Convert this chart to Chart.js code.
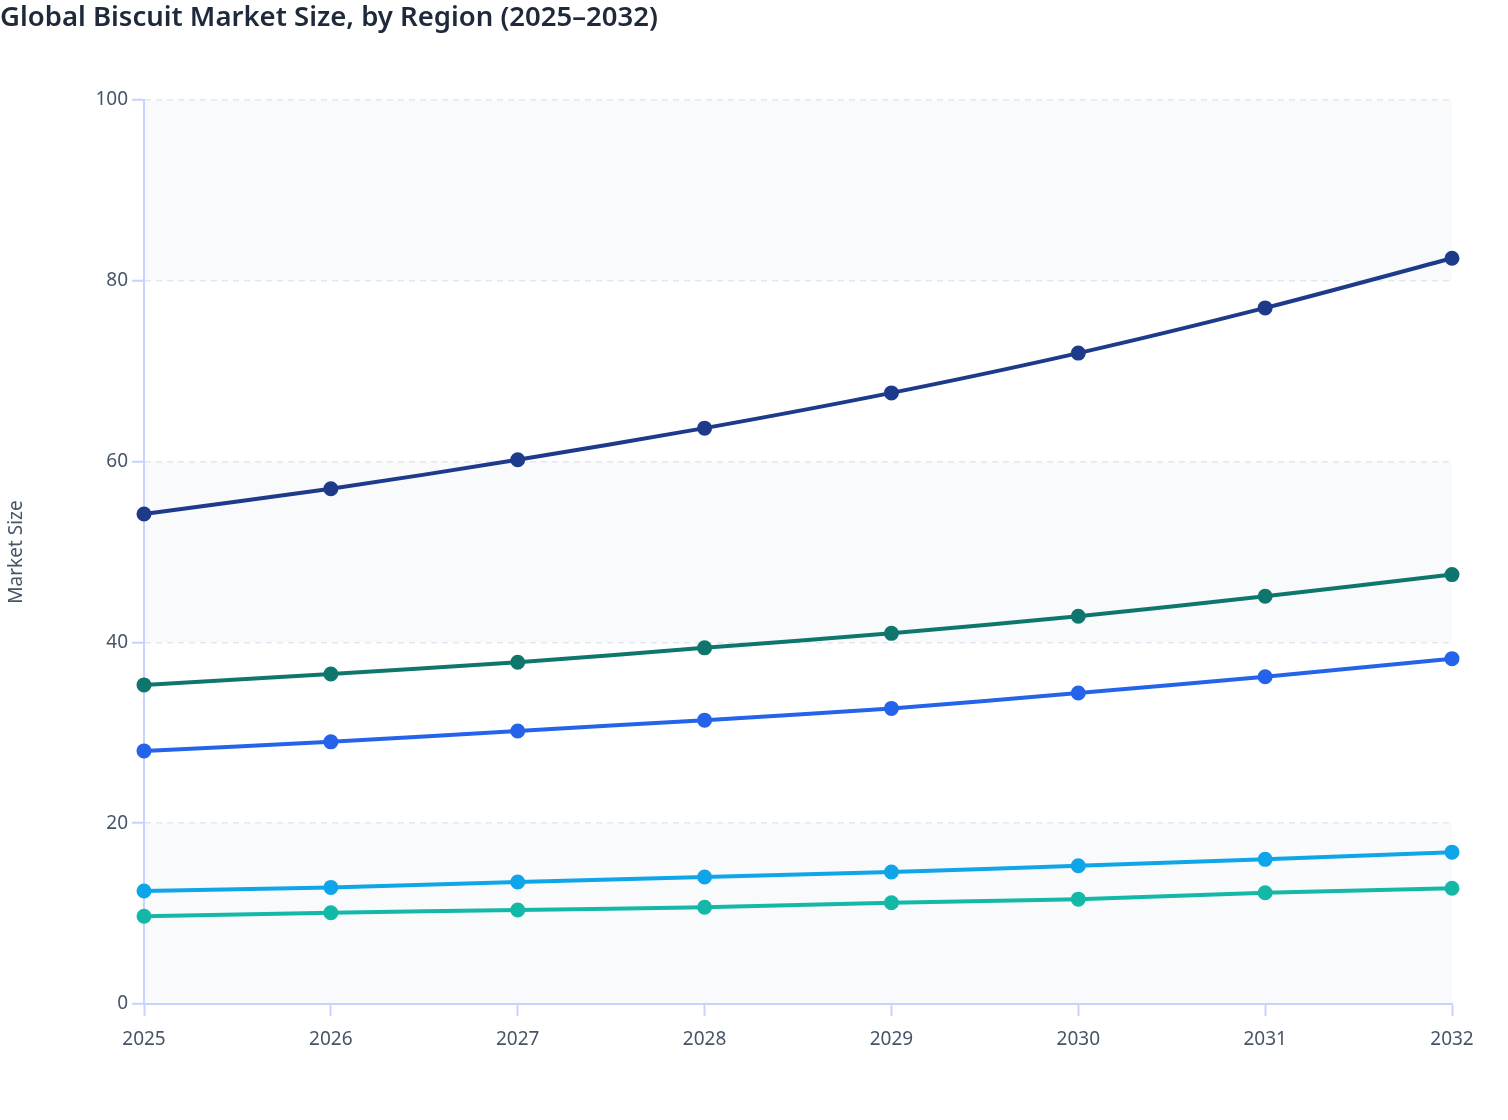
<!DOCTYPE html>
<html>
<head>
<meta charset="utf-8">
<script src="https://cdn.jsdelivr.net/npm/chart.js@4.4.1/dist/chart.umd.min.js"></script>
<style>
  html, body { margin: 0; padding: 0; background: #ffffff; }
  #wrap { width: 1508px; height: 1120px; position: relative; }
</style>
</head>
<body>
<div id="wrap"><canvas id="graficoBiscuit"></canvas></div>
<script>
// años y valores por región
const years = ['2025', '2026', '2027', '2028', '2029', '2030', '2031', '2032'];
const regions = ['Asia Pacific', 'Europe', 'North America', 'Latin America', 'Middle East & Africa'];
const asiaPacific = [54.2, 57.0, 60.2, 63.7, 67.6, 72.0, 77.0, 82.5];
const europe = [35.3, 36.5, 37.8, 39.4, 41.0, 42.9, 45.1, 47.5];
const northAmerica = [28.0, 29.0, 30.2, 31.4, 32.7, 34.4, 36.2, 38.2];
const latinAmerica = [12.5, 12.9, 13.5, 14.05, 14.6, 15.3, 16.0, 16.8];
const middleEastAfrica = [9.7, 10.1, 10.4, 10.7, 11.2, 11.6, 12.3, 12.8];
const colors = ['#1e3a8a', '#0f766e', '#2563eb', '#0ea5e9', '#14b8a6'];
const yTicks = [0, 20, 40, 60, 80, 100];

const series = [asiaPacific, europe, northAmerica, latinAmerica, middleEastAfrica];
const FONT = "'Noto Sans', sans-serif";

// franjas alternas de fondo
const bandas = {
  id: 'bandas',
  beforeDraw(chart) {
    const { ctx, chartArea, scales } = chart;
    const y = scales.y;
    ctx.save();
    ctx.fillStyle = '#f8fafc';
    for (let i = 0; i < yTicks.length - 1; i += 2) {
      const top = y.getPixelForValue(yTicks[i + 1]);
      const bottom = y.getPixelForValue(yTicks[i]);
      ctx.fillRect(chartArea.left, top, chartArea.right - chartArea.left, bottom - top);
    }
    ctx.restore();
  }
};

const canvas = document.getElementById('graficoBiscuit');

new Chart(canvas, {
  type: 'line',
  data: {
    labels: years,
    datasets: series.map((vals, i) => ({
      label: regions[i],
      data: vals,
      borderColor: colors[i],
      backgroundColor: colors[i],
      borderWidth: 4,
      pointRadius: 5.5,
      pointHoverRadius: 6,
      tension: 0.3,
      clip: false,
      fill: false
    }))
  },
  options: {
    responsive: true,
    maintainAspectRatio: false,
    animation: false,
    layout: { padding: { left: 0, right: 56, top: 0, bottom: 52 } },
    plugins: {
      legend: { display: false },
      tooltip: { enabled: false },
      title: {
        display: true,
        text: 'Global Biscuit Market Size, by Region (2025–2032)',
        align: 'start',
        color: '#1e293b',
        font: { family: FONT, size: 27.5, weight: '600' },
        padding: { top: 2, bottom: 65 }
      }
    },
    scales: {
      x: {
        type: 'category',
        offset: false,
        border: { color: '#c7d2fe', width: 2 },
        grid: { drawOnChartArea: false, tickLength: 12, tickColor: '#c7d2fe', tickWidth: 2 },
        ticks: {
          color: '#475569',
          padding: 12,
          maxRotation: 0,
          font: { family: FONT, size: 19 }
        },
        afterFit(scale) { scale.height = 64; }
      },
      y: {
        min: 0,
        max: 100,
        border: { color: '#c7d2fe', width: 2, dash: [6, 5] },
        grid: {
          color: '#e2e8f0',
          lineWidth: 1.5,
          tickLength: 12,
          tickColor: '#c7d2fe',
          tickWidth: 2,
          tickBorderDash: []
        },
        ticks: {
          stepSize: 20,
          color: '#475569',
          padding: 4,
          font: { family: FONT, size: 19 }
        },
        title: {
          display: true,
          text: 'Market Size',
          color: '#475569',
          padding: { top: 5, bottom: 0 },
          font: { family: FONT, size: 19 }
        },
        afterFit(scale) { scale.width = 144; }
      }
    }
  },
  plugins: [bandas]
});
</script>
</body>
</html>
